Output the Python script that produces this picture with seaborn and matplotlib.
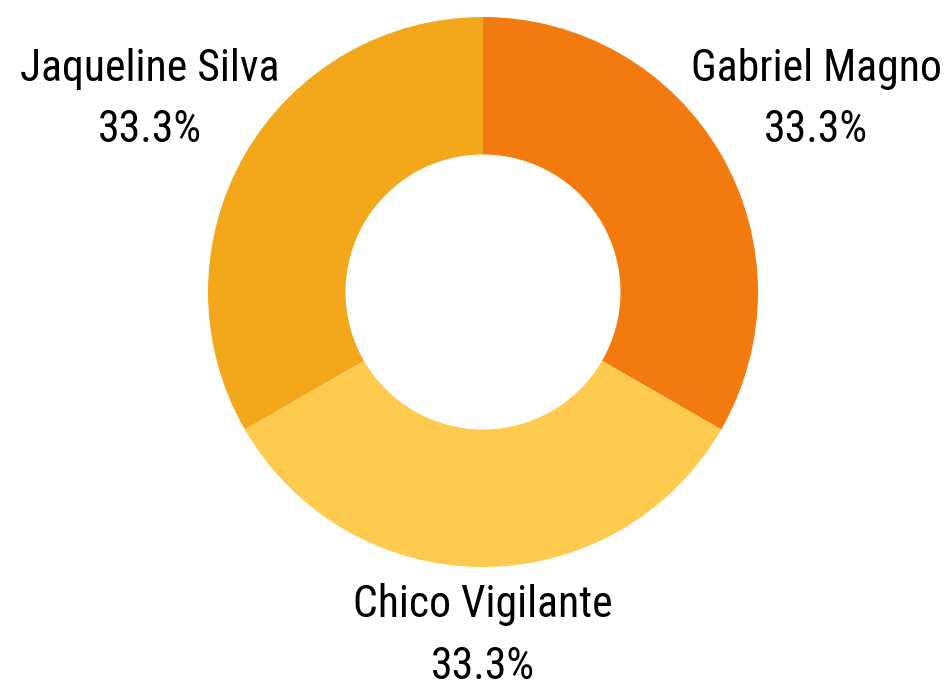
import matplotlib
matplotlib.use('Agg')
import matplotlib.pyplot as plt
import seaborn as sns
import numpy as np

names = ['Gabriel Magno', 'Chico Vigilante', 'Jaqueline Silva']
votes = [1, 1, 1]
colors = ['#F37A0E', '#FECB4F', '#F3A81B']

sns.set_style('white')
fonts = ['Roboto Condensed', 'Open Sans Condensed', 'DejaVu Sans']

fig = plt.figure(figsize=(9.49, 6.90), dpi=100)
ax = fig.add_axes([0, 0, 1, 1])

wedges, _ = ax.pie(votes, colors=colors, startangle=90, counterclock=False,
                   radius=1.0, wedgeprops=dict(width=0.5, edgecolor='none'))

total = sum(votes)
# bottom label sits closer to the ring than the side ones
dist = [1.40, 1.25, 1.40]
for w, name, v, d in zip(wedges, names, votes, dist):
    ang = np.deg2rad((w.theta1 + w.theta2) / 2)
    x, y = d * np.cos(ang), d * np.sin(ang)
    ax.text(x, y, '{0}\n{1:.1f}%'.format(name, 100 * v / total),
            ha='center', va='center', fontsize=31.5, linespacing=1.6,
            family=fonts, fontstretch='condensed', color='black')

ax.set_xlim(-483 / 275, (949 - 483) / 275)
ax.set_ylim(-398 / 275, 292 / 275)
ax.set_aspect('auto')
ax.axis('off')

fig.savefig('out.png', dpi=100)
